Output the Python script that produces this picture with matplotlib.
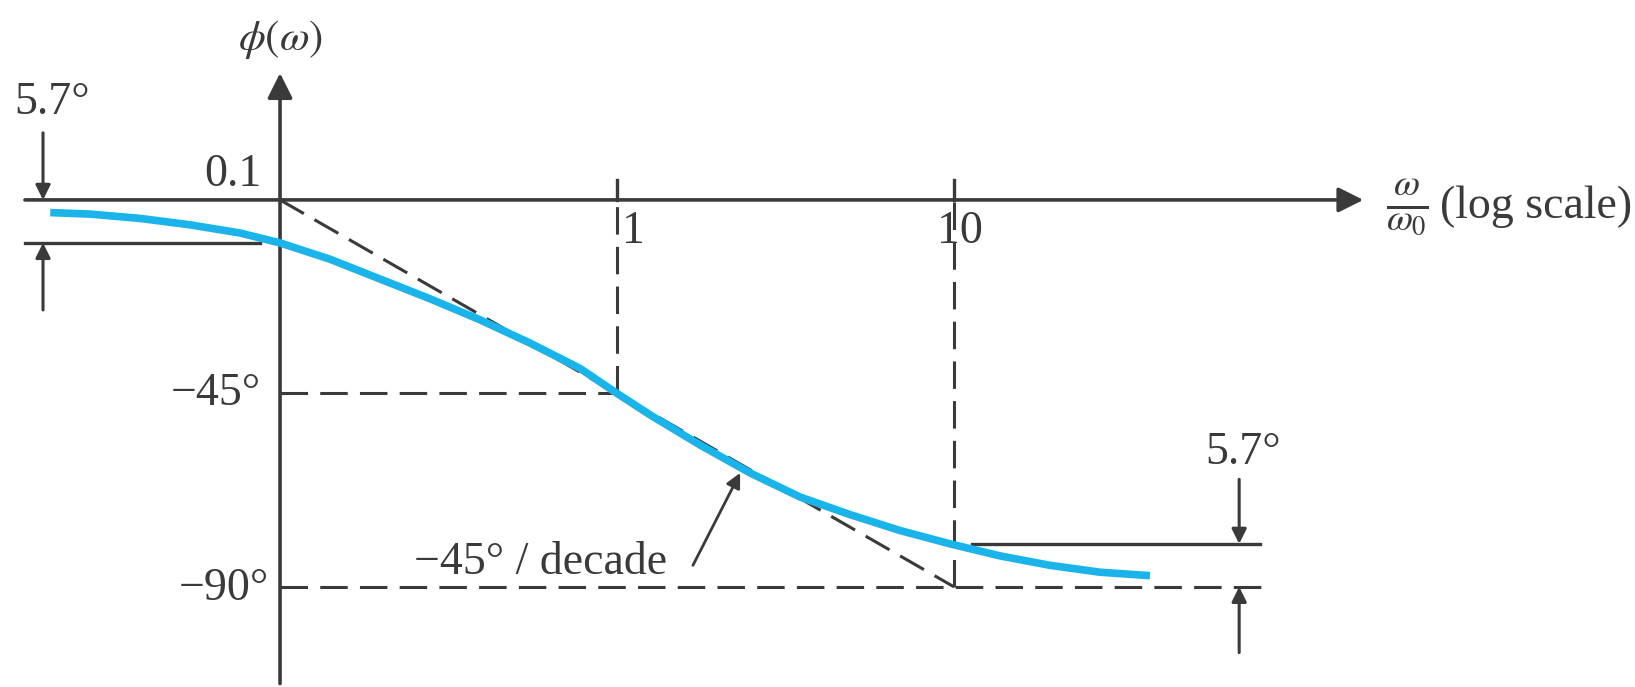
import numpy as np
import matplotlib
matplotlib.use('Agg')
import matplotlib.pyplot as plt

plt.rcParams['font.family'] = 'Liberation Serif'
plt.rcParams['mathtext.fontset'] = 'stix'

# phase curve (omega/omega0, degrees)
ratio = [0.0208, 0.0273, 0.0384, 0.0541, 0.0761, 0.1, 0.1407, 0.198, 0.2787,
         0.3923, 0.5518, 0.7766, 1.0, 1.253, 1.763, 2.481, 3.491, 4.913, 6.917,
         9.73, 13.69, 19.27, 27.12, 38.16]
phase = [-2.95, -3.3, -4.3, -5.8, -7.7, -10.0, -13.8, -18.4, -23.0,
         -27.9, -33.3, -39.2, -45.0, -50.0, -57.0, -63.5, -69.1, -73.2, -76.9,
         -80.0, -82.8, -85.0, -86.6, -87.4]

# straight-line approximation
asym_x = [0.1, 10]
asym_y = [0, -90]

tick_labels = ['0.1', '1', '10']
deg_labels = ['\u221245\u00b0', '\u221290\u00b0']

ink = '#3a3a3a'
blue = '#1ab4ea'

fig = plt.figure(figsize=(16.35, 6.87), dpi=100)
ax = fig.add_axes([0, 0, 1, 1])
ax.set_xscale('log')
ax.set_xlim(10 ** -1.831, 10 ** 3.021)
ax.set_ylim(-113.3, 46.5)
ax.axis('off')

# axes with arrow heads
ax.annotate('', xy=(164, 0), xytext=(0.0175, 0),
            arrowprops=dict(arrowstyle='-|>', mutation_scale=38, lw=2.6, color=ink,
                            shrinkA=0, shrinkB=0))
ax.annotate('', xy=(0.1, 29.5), xytext=(0.1, -112.5),
            arrowprops=dict(arrowstyle='-|>', mutation_scale=38, lw=2.6, color=ink,
                            shrinkA=0, shrinkB=0))

# dashed guide lines
dash = dict(color=ink, lw=2.2, dashes=(9, 4))
ax.plot([0.1, 1], [-45, -45], **dash)
ax.plot([0.1, 86.7], [-90, -90], **dash)
ax.plot([1, 1], [-45, 0], **dash)
ax.plot([10, 10], [-90, 0], **dash)
ax.plot(asym_x, asym_y, **dash)
# ticks above the axis
ax.plot([1, 1], [0, 4.7], color=ink, lw=2.4)
ax.plot([10, 10], [0, 4.7], color=ink, lw=2.4)

# the phase curve
ax.plot(ratio, phase, color=blue, lw=5.5, solid_capstyle='butt',
        solid_joinstyle='round', zorder=5)

# 5.7 degree dimension marks
ax.plot([0.0175, 0.0873], [-10, -10], color=ink, lw=2.4)
ax.plot([11.3, 80.9], [-80, -80], color=ink, lw=2.4)
dim = dict(arrowstyle='-|>', mutation_scale=22, lw=2.2, color=ink, shrinkA=0, shrinkB=0)
ax.annotate('', xy=(0.0198, 0), xytext=(0.0198, 15.6), arrowprops=dim)
ax.annotate('', xy=(0.0198, -10), xytext=(0.0198, -25.6), arrowprops=dim)
ax.annotate('', xy=(70.2, -80), xytext=(70.2, -65), arrowprops=dim)
ax.annotate('', xy=(70.2, -90), xytext=(70.2, -105.3), arrowprops=dim)

# slope pointer
ax.annotate('', xy=(2.32, -63.5), xytext=(1.68, -85),
            arrowprops=dict(arrowstyle='-|>', mutation_scale=22, lw=2.0, color=ink,
                            shrinkA=0, shrinkB=0))

fs = 33
ax.text(0.021, 22.6, '5.7\u00b0', fontsize=fs, color=ink, ha='center', va='center')
ax.text(72.1, -58.8, '5.7\u00b0', fontsize=fs, color=ink, ha='center', va='center')
ax.text(0.0726, 5.8, tick_labels[0], fontsize=fs, color=ink, ha='center', va='center')
ax.text(1.12, -7.4, tick_labels[1], fontsize=fs, color=ink, ha='center', va='center')
ax.text(10.4, -7.4, tick_labels[2], fontsize=fs, color=ink, ha='center', va='center')
ax.text(0.088, -45, deg_labels[0], fontsize=fs, color=ink, ha='right', va='center')
ax.text(0.093, -90.5, deg_labels[1], fontsize=fs, color=ink, ha='right', va='center')
ax.text(0.595, -84.5, '\u221245\u00b0 / decade', fontsize=fs, color=ink,
        ha='center', va='center')
ax.text(0.1, 37.2, r'$\phi(\omega)$', fontsize=31, color=ink, ha='center', va='center')
ax.text(221, -1.6, r'$\frac{\omega}{\omega_0}$', fontsize=fs + 6, color=ink,
        ha='center', va='center')
ax.text(277, -1.6, '(log scale)', fontsize=fs, color=ink, ha='left', va='center')

fig.savefig('out.png', dpi=100, facecolor='white')
